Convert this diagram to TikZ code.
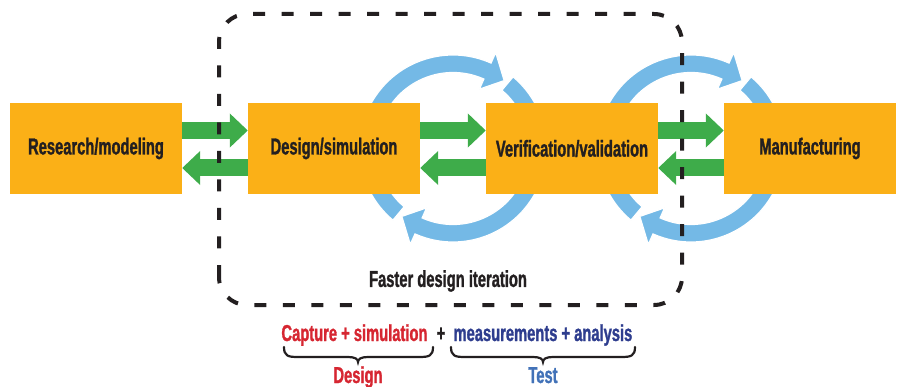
\documentclass[tikz,border=0pt]{standalone}
\usepackage{fontspec}
\setmainfont{Liberation Sans}[FakeStretch=0.64, BoldFeatures={FakeBold=1.2}]
\usetikzlibrary{arrows.meta,calc}
\definecolor{boxor}{RGB}{251,176,23}
\definecolor{garr}{RGB}{62,172,74}
\definecolor{barr}{RGB}{116,185,230}
\definecolor{ink}{RGB}{35,31,32}
\definecolor{dred}{RGB}{214,38,49}
\definecolor{dnavy}{RGB}{46,61,142}
\definecolor{tblue}{RGB}{66,114,184}
\newcommand\bluecurve[4]{%
  \filldraw[fill=barr, draw=white, line width=1.2pt]
    ($(#1)+(#2:93.5)$) arc[start angle=#2, end angle=#3, radius=93.5pt]
    -- ($(#1)+(#3:105)$) -- ($(#1)+(#4:85)$) -- ($(#1)+(#3:65)$)
    -- ($(#1)+(#3:76)$) arc[start angle=#3, end angle=#2, radius=76pt] -- cycle;}
\tikzset{
  stagebox/.style={fill=boxor, draw=none, minimum width=172pt, minimum height=91pt, inner sep=0pt, text=ink},
  garrow/.style={draw=garr, line width=17pt, -{Triangle[width=33pt,length=18pt]}},
  dashbox/.style={draw=ink, line width=4pt, dash pattern=on 12pt off 16.5pt, rounded corners=28pt},
  bracepath/.style={draw=ink, line width=2.2pt, line cap=round}
}
\begin{document}
\begin{tikzpicture}[x=1pt,y=1pt, font=\bfseries\fontsize{23}{23}\selectfont]
\useasboundingbox (0,0) rectangle (897,386);
\coordinate (c1) at (453,237.5);
\coordinate (c2) at (691,237.5);
% blue circular arrows
\bluecurve{c1}{230}{66}{53}
\bluecurve{c1}{50}{-114}{-127}
\bluecurve{c2}{230}{66}{53}
\bluecurve{c2}{50}{-114}{-127}
% boxes
\node[stagebox] (res) at (96,237.5) {Research/modeling};
\node[stagebox] (des) at (334,237.5) {Design/simulation};
\node[stagebox] (ver) at (572,237.5) {Verification/validation};
\node[stagebox] (man) at (810,237.5) {Manufacturing};
% green arrows
\draw[garrow] ([yshift=18pt]res.east) -- ([yshift=18pt]des.west);
\draw[garrow] ([yshift=-19.5pt]des.west) -- ([yshift=-19.5pt]res.east);
\draw[garrow] ([yshift=18pt]des.east) -- ([yshift=18pt]ver.west);
\draw[garrow] ([yshift=-19.5pt]ver.west) -- ([yshift=-19.5pt]des.east);
\draw[garrow] ([yshift=18pt]ver.east) -- ([yshift=18pt]man.west);
\draw[garrow] ([yshift=-19.5pt]man.west) -- ([yshift=-19.5pt]ver.east);
% dashed region
\draw[dashbox] (219,81) rectangle (682,372);
\node[text=ink] (fast) at (448,105) {Faster design iteration};
% bottom labels
\node[text=dred, anchor=base east] (cap) at (431,45) {Capture + simulation};
\node[text=ink, anchor=base] (plus) at (441,45) {+};
\node[text=dnavy, anchor=base west] (mea) at (450,45) {measurements + analysis};
\coordinate (b1l) at (284,39); \coordinate (b1r) at (433,39); \coordinate (b1m) at (358,24);
\coordinate (b2l) at (451,39); \coordinate (b2r) at (635,39); \coordinate (b2m) at (543,24);
\draw[bracepath] (b1l) .. controls ($(b1l)+(0,-9)$) and ($(b1l)+(4,-10)$) .. ($(b1l)+(14,-10)$)
  -- ($(b1m)+(-10,5)$) .. controls ($(b1m)+(-3,5)$) and ($(b1m)+(0,3)$) .. (b1m)
  .. controls ($(b1m)+(0,3)$) and ($(b1m)+(3,5)$) .. ($(b1m)+(10,5)$)
  -- ($(b1r)+(-14,-10)$) .. controls ($(b1r)+(-4,-10)$) and ($(b1r)+(0,-9)$) .. (b1r);
\draw[bracepath] (b2l) .. controls ($(b2l)+(0,-9)$) and ($(b2l)+(4,-10)$) .. ($(b2l)+(14,-10)$)
  -- ($(b2m)+(-10,5)$) .. controls ($(b2m)+(-3,5)$) and ($(b2m)+(0,3)$) .. (b2m)
  .. controls ($(b2m)+(0,3)$) and ($(b2m)+(3,5)$) .. ($(b2m)+(10,5)$)
  -- ($(b2r)+(-14,-10)$) .. controls ($(b2r)+(-4,-10)$) and ($(b2r)+(0,-9)$) .. (b2r);
\node[text=dred, anchor=base] (dlab) at (358,3) {Design};
\node[text=tblue, anchor=base] (tlab) at (543,3) {Test};
\end{tikzpicture}
\end{document}
